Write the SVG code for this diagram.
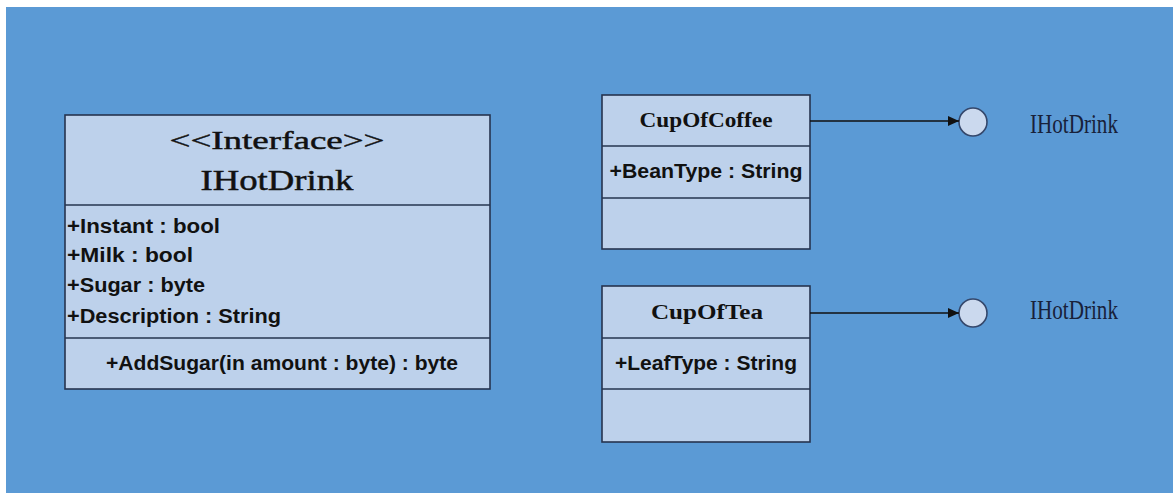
<svg xmlns="http://www.w3.org/2000/svg" width="1174" height="493" viewBox="0 0 1174 493">
<defs>
<style>
.box{fill:#BDD1EB;stroke:#26344F;stroke-width:1.6}
.div{stroke:#26344F;stroke-width:1.3}
.ser{font-family:"Liberation Serif","Times New Roman",serif;fill:#111;font-weight:bold}
.hdr{font-family:"Liberation Serif","Times New Roman",serif;fill:#111;font-weight:normal;stroke:#111;stroke-width:0.45}
.sans{font-family:"Liberation Sans",Arial,sans-serif;font-weight:bold;fill:#111}
.lbl{font-family:"Liberation Serif",serif;fill:#18213A}
.conn{stroke:#111;stroke-width:1.3;fill:none}
.lol{fill:#CBD9EE;stroke:#34476B;stroke-width:1.6}
</style>
<marker id="arr" markerWidth="12" markerHeight="10" refX="11" refY="5" orient="auto" markerUnits="userSpaceOnUse">
<path d="M0,0 L11,5 L0,10 Z" fill="#111"/>
</marker>
</defs>
<rect width="1174" height="493" fill="#FFFFFF"/>
<rect x="6" y="7" width="1167" height="486" fill="#5B9AD5"/>

<g id="IHotDrink">
<rect class="box" x="65" y="115" width="425" height="274"/>
<line class="div" x1="65" y1="205" x2="490" y2="205"/>
<line class="div" x1="65" y1="338" x2="490" y2="338"/>
<text class="hdr" x="277" y="149" text-anchor="middle" font-size="26" textLength="215" lengthAdjust="spacingAndGlyphs">&lt;&lt;Interface&gt;&gt;</text>
<text class="hdr" x="277" y="190" text-anchor="middle" font-size="29" textLength="153" lengthAdjust="spacingAndGlyphs">IHotDrink</text>
<text class="sans" x="67" y="233" font-size="20" textLength="153" lengthAdjust="spacingAndGlyphs">+Instant : bool</text>
<text class="sans" x="67" y="262" font-size="20" textLength="126" lengthAdjust="spacingAndGlyphs">+Milk : bool</text>
<text class="sans" x="67" y="292" font-size="20" textLength="138" lengthAdjust="spacingAndGlyphs">+Sugar : byte</text>
<text class="sans" x="67" y="323" font-size="20" textLength="214" lengthAdjust="spacingAndGlyphs">+Description : String</text>
<text class="sans" x="282" y="370" text-anchor="middle" font-size="20" textLength="352" lengthAdjust="spacingAndGlyphs">+AddSugar(in amount : byte) : byte</text>
</g>

<g id="CupOfCoffee">
<rect class="box" x="602" y="95" width="208" height="154"/>
<line class="div" x1="602" y1="146" x2="810" y2="146"/>
<line class="div" x1="602" y1="198" x2="810" y2="198"/>
<text class="ser" x="706" y="127" text-anchor="middle" font-size="20" textLength="133" lengthAdjust="spacingAndGlyphs">CupOfCoffee</text>
<text class="sans" x="706" y="178" text-anchor="middle" font-size="20" textLength="193" lengthAdjust="spacingAndGlyphs">+BeanType : String</text>
</g>

<g id="CupOfTea">
<rect class="box" x="602" y="286" width="208" height="156"/>
<line class="div" x1="602" y1="338" x2="810" y2="338"/>
<line class="div" x1="602" y1="389" x2="810" y2="389"/>
<text class="ser" x="707" y="319" text-anchor="middle" font-size="20" textLength="112" lengthAdjust="spacingAndGlyphs">CupOfTea</text>
<text class="sans" x="706" y="370" text-anchor="middle" font-size="20" textLength="182" lengthAdjust="spacingAndGlyphs">+LeafType : String</text>
</g>

<g id="lollipop1">
<circle class="lol" cx="973" cy="122" r="14"/>
<text class="lbl" x="1030" y="133" font-size="28" textLength="88" lengthAdjust="spacingAndGlyphs">IHotDrink</text>
</g>

<g id="lollipop2">
<circle class="lol" cx="973" cy="313" r="14"/>
<text class="lbl" x="1030" y="319" font-size="28" textLength="88" lengthAdjust="spacingAndGlyphs">IHotDrink</text>
</g>

<g id="connectors">
<line class="conn" x1="810" y1="121" x2="959" y2="121" marker-end="url(#arr)"/>
<line class="conn" x1="810" y1="313" x2="959" y2="313" marker-end="url(#arr)"/>
</g>
</svg>
